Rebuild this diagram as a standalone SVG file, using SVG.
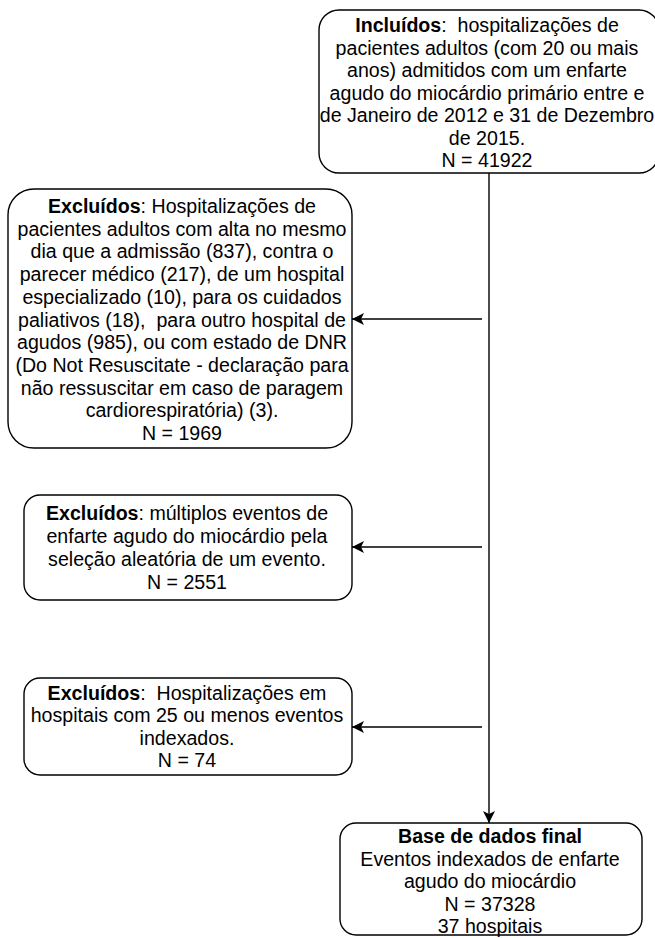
<svg xmlns="http://www.w3.org/2000/svg" width="655" height="938" viewBox="0 0 655 938">
<defs>
<style>
.box{fill:#fff;stroke:#000;stroke-width:1.4}
.t{font-family:"Liberation Sans",Arial,Helvetica,sans-serif;font-size:19.6px;fill:#000;text-anchor:middle}
.b{font-weight:bold}
.edge{fill:none;stroke:#000;stroke-width:1.4}
</style>
<marker id="arr" markerUnits="userSpaceOnUse" markerWidth="13" markerHeight="12" refX="12" refY="6" orient="auto">
<path d="M0,0 L12,6 L0,12 L3,6 Z" fill="#000"/>
</marker>
</defs>
<rect width="655" height="938" fill="#fff"/>
<g id="connectors">
<path class="edge" d="M489,173 L489,823" marker-end="url(#arr)"/>
<path class="edge" d="M482,319 L352,319" marker-end="url(#arr)"/>
<path class="edge" d="M482,547 L352,547" marker-end="url(#arr)"/>
<path class="edge" d="M482,727 L352,727" marker-end="url(#arr)"/>
</g>
<g id="incluidos">
<rect class="box" x="319" y="10" width="340" height="163" rx="20" ry="20"/>
<text class="t" xml:space="preserve"><tspan x="487" y="32"><tspan class="b">Incluídos</tspan>:  hospitalizações de</tspan><tspan x="487" y="54.5">pacientes adultos (com 20 ou mais</tspan><tspan x="487" y="77">anos) admitidos com um enfarte</tspan><tspan x="487" y="99.5">agudo do miocárdio primário entre e</tspan><tspan x="487" y="122">de Janeiro de 2012 e 31 de Dezembro</tspan><tspan x="487" y="144.5">de 2015.</tspan><tspan x="487" y="167">N = 41922</tspan></text>
</g>
<g id="excluidos1">
<rect class="box" x="8" y="189" width="344" height="259" rx="26" ry="26"/>
<text class="t" xml:space="preserve"><tspan x="182" y="213"><tspan class="b">Excluídos</tspan>: Hospitalizações de</tspan><tspan x="182" y="235.7">pacientes adultos com alta no mesmo</tspan><tspan x="182" y="258.4">dia que a admissão (837), contra o</tspan><tspan x="182" y="281.1">parecer médico (217), de um hospital</tspan><tspan x="182" y="303.8">especializado (10), para os cuidados</tspan><tspan x="182" y="326.5">paliativos (18),  para outro hospital de</tspan><tspan x="182" y="349.2">agudos (985), ou com estado de DNR</tspan><tspan x="182" y="371.9">(Do Not Resuscitate - declaração para</tspan><tspan x="182" y="394.6">não ressuscitar em caso de paragem</tspan><tspan x="182" y="417.3">cardiorespiratória) (3).</tspan><tspan x="182" y="440">N = 1969</tspan></text>
</g>
<g id="excluidos2">
<rect class="box" x="24" y="495" width="328" height="105" rx="16" ry="16"/>
<text class="t" xml:space="preserve"><tspan x="187" y="520"><tspan class="b">Excluídos</tspan>: múltiplos eventos de</tspan><tspan x="187" y="543">enfarte agudo do miocárdio pela</tspan><tspan x="187" y="566">seleção aleatória de um evento.</tspan><tspan x="187" y="589">N = 2551</tspan></text>
</g>
<g id="excluidos3">
<rect class="box" x="24" y="678" width="328" height="97" rx="16" ry="16"/>
<text class="t" xml:space="preserve"><tspan x="187" y="699.5"><tspan class="b">Excluídos</tspan>:  Hospitalizações em</tspan><tspan x="187" y="722">hospitais com 25 ou menos eventos</tspan><tspan x="187" y="744.5">indexados.</tspan><tspan x="187" y="767">N = 74</tspan></text>
</g>
<g id="final">
<rect class="box" x="340" y="823" width="302" height="112" rx="16" ry="16"/>
<text class="t"><tspan class="b" x="490" y="843">Base de dados final</tspan><tspan x="490" y="865.5">Eventos indexados de enfarte</tspan><tspan x="490" y="888">agudo do miocárdio</tspan><tspan x="490" y="910.5">N = 37328</tspan><tspan x="490" y="933">37 hospitais</tspan></text>
</g>
</svg>
